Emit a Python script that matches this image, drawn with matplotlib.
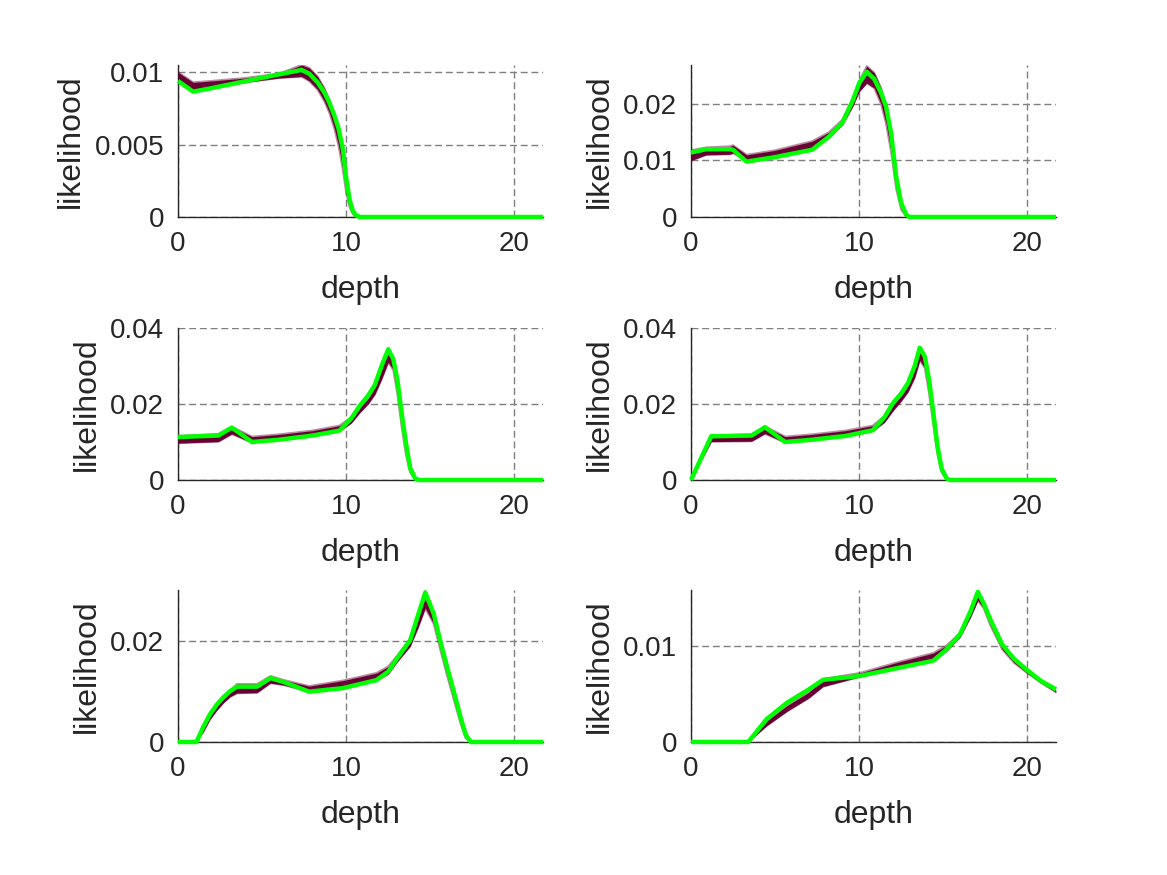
import numpy as np
import matplotlib
matplotlib.use('Agg')
import matplotlib.pyplot as plt
from matplotlib.ticker import FormatStrFormatter

plt.rcParams['font.family'] = ['Liberation Sans', 'DejaVu Sans']

# panel 1 (top left)
depth1 = [0, 0.9, 2, 4, 6, 7.35, 7.8, 8.3, 8.7, 9.0, 9.3, 9.55, 9.8, 10.0, 10.2, 10.4, 10.6, 10.8, 21.7]
green1 = [0.0094, 0.00866, 0.0089, 0.00938, 0.00985, 0.01016, 0.0099, 0.0093, 0.0086, 0.0079, 0.0070, 0.0061, 0.0047, 0.0027, 0.0012, 0.0004, 0.0001, 0, 0]
hi1 = [0.0100, 0.0093, 0.0094, 0.0096, 0.0099, 0.0105, 0.0103, 0.0097, 0.0089, 0.0081, 0.0070, 0.0058, 0.0041, 0.0023, 0.0010, 0.0003, 0.0001, 0, 0]
lo1 = [0.0095, 0.0087, 0.0089, 0.0093, 0.0096, 0.0097, 0.0094, 0.0088, 0.0080, 0.0072, 0.0061, 0.0049, 0.0033, 0.0017, 0.0007, 0.0002, 0.0, 0, 0]

# panel 2 (top right)
depth2 = [0, 0.9, 2.3, 2.5, 3.3, 5, 7.2, 8.2, 9.0, 9.6, 10.0, 10.45, 10.9, 11.3, 11.6, 11.9, 12.2, 12.5, 12.8, 13.0, 21.7]
green2 = [0.0114, 0.0120, 0.0120, 0.0119, 0.0098, 0.0106, 0.0119, 0.0142, 0.0167, 0.0205, 0.0237, 0.0257, 0.0244, 0.0220, 0.0195, 0.0148, 0.0071, 0.0024, 0.0004, 0, 0]
hi2 = [0.0118, 0.0123, 0.0125, 0.0127, 0.0110, 0.0118, 0.0134, 0.0150, 0.0172, 0.0208, 0.0240, 0.0267, 0.0255, 0.0228, 0.0196, 0.0148, 0.0072, 0.0022, 0.0003, 0, 0]
lo2 = [0.0100, 0.0110, 0.0111, 0.0113, 0.0100, 0.0107, 0.0120, 0.0140, 0.0163, 0.0195, 0.0222, 0.0237, 0.0228, 0.0200, 0.0165, 0.0115, 0.0050, 0.0013, 0.0001, 0, 0]

# panel 3 (middle left)
depth3 = [0, 2.4, 3.2, 4.4, 6, 8, 9.6, 10.3, 10.8, 11.3, 11.7, 12.1, 12.5, 12.8, 13.05, 13.3, 13.55, 13.8, 14.1, 14.3, 21.7]
green3 = [0.0113, 0.0117, 0.0138, 0.0100, 0.0106, 0.0117, 0.0130, 0.0162, 0.0195, 0.0222, 0.0250, 0.0300, 0.0344, 0.0318, 0.0262, 0.0175, 0.0098, 0.0032, 0.0004, 0, 0]
hi3 = [0.0116, 0.0121, 0.0140, 0.0114, 0.0120, 0.0130, 0.0143, 0.0165, 0.0190, 0.0215, 0.0243, 0.0292, 0.0347, 0.0318, 0.0255, 0.0168, 0.0088, 0.0030, 0.0003, 0, 0]
lo3 = [0.0097, 0.0101, 0.0121, 0.0098, 0.0106, 0.0115, 0.0128, 0.0150, 0.0177, 0.0200, 0.0225, 0.0265, 0.0310, 0.0290, 0.0225, 0.0140, 0.0068, 0.0020, 0.0001, 0, 0]

# panel 4 (middle right)
depth4 = [0, 1.2, 3.6, 4.4, 5.6, 7.2, 9.2, 10.8, 11.5, 12.0, 12.5, 12.9, 13.3, 13.6, 13.9, 14.15, 14.4, 14.65, 14.9, 15.2, 15.4, 21.7]
green4 = [0, 0.0115, 0.0117, 0.0139, 0.0100, 0.0106, 0.0116, 0.0131, 0.0165, 0.0202, 0.0228, 0.0255, 0.0300, 0.0348, 0.0325, 0.0265, 0.0180, 0.0090, 0.0030, 0.0004, 0, 0]
hi4 = [0, 0.0117, 0.0120, 0.0141, 0.0114, 0.0120, 0.0130, 0.0143, 0.0168, 0.0197, 0.0222, 0.0248, 0.0292, 0.0350, 0.0322, 0.0258, 0.0172, 0.0083, 0.0026, 0.0003, 0, 0]
lo4 = [0, 0.0101, 0.0102, 0.0122, 0.0098, 0.0106, 0.0115, 0.0128, 0.0152, 0.0182, 0.0208, 0.0232, 0.0270, 0.0315, 0.0295, 0.0230, 0.0148, 0.0068, 0.0020, 0.0001, 0, 0]

# panel 5 (bottom left)
depth5 = [0, 1.1, 1.5, 1.9, 2.3, 2.7, 3.1, 3.5, 4.7, 5.5, 6.3, 7.8, 9.8, 11.8, 12.5, 13.0, 13.8, 14.3, 14.7, 15.2, 15.6, 16.0, 16.4, 16.8, 17.1, 17.4, 21.7]
green5 = [0, 0, 0.0030, 0.0055, 0.0074, 0.0089, 0.0101, 0.0110, 0.0110, 0.0127, 0.0119, 0.0100, 0.0107, 0.0123, 0.0140, 0.0165, 0.0202, 0.0255, 0.0297, 0.0255, 0.0200, 0.0149, 0.0100, 0.0049, 0.0015, 0, 0]
hi5 = [0, 0, 0.0028, 0.0053, 0.0072, 0.0088, 0.0102, 0.0115, 0.0115, 0.0131, 0.0123, 0.0111, 0.0122, 0.0137, 0.0150, 0.0170, 0.0205, 0.0257, 0.0300, 0.0250, 0.0195, 0.0143, 0.0093, 0.0043, 0.0011, 0, 0]
lo5 = [0, 0, 0.0020, 0.0045, 0.0063, 0.0078, 0.0090, 0.0097, 0.0098, 0.0117, 0.0113, 0.0100, 0.0107, 0.0122, 0.0135, 0.0158, 0.0190, 0.0230, 0.0266, 0.0235, 0.0183, 0.0132, 0.0084, 0.0037, 0.0008, 0, 0]

# panel 6 (bottom right)
depth6 = [0, 3.4, 4.5, 5.7, 7.0, 7.85, 10.0, 12.2, 14.4, 15.2, 16.0, 16.6, 17.05, 17.4, 17.8, 18.5, 19.2, 20.0, 20.8, 21.7]
green6 = [0, 0, 0.0024, 0.0041, 0.0055, 0.0065, 0.0069, 0.0077, 0.0085, 0.0097, 0.0113, 0.0136, 0.0157, 0.0145, 0.0128, 0.0102, 0.0087, 0.0075, 0.0064, 0.0055]
hi6 = [0, 0, 0.0022, 0.0038, 0.0052, 0.0066, 0.0072, 0.0083, 0.0093, 0.0101, 0.0114, 0.0136, 0.0158, 0.0145, 0.0127, 0.0100, 0.0085, 0.0074, 0.0063, 0.0054]
lo6 = [0, 0, 0.0017, 0.0032, 0.0046, 0.0058, 0.0068, 0.0077, 0.0085, 0.0095, 0.0110, 0.0130, 0.0148, 0.0140, 0.0122, 0.0097, 0.0083, 0.0072, 0.0062, 0.0052]

depths = [depth1, depth2, depth3, depth4, depth5, depth6]
greens = [green1, green2, green3, green4, green5, green6]
his = [hi1, hi2, hi3, hi4, hi5, hi6]
los = [lo1, lo2, lo3, lo4, lo5, lo6]
ytops = [0.0105, 0.0269, 0.04, 0.04, 0.0302, 0.0159]
yticks = [[0, 0.005, 0.01], [0, 0.01, 0.02], [0, 0.02, 0.04], [0, 0.02, 0.04], [0, 0.02], [0, 0.01]]

maroon = '#690035'
txt = '#262626'

fig = plt.figure(figsize=(11.67, 8.75), dpi=100)
lefts = [178, 691]
tops = [65, 328, 590]
w = 365 / 1167

for i in range(6):
    r, c = divmod(i, 2)
    h = 152 / 875
    ax = fig.add_axes([lefts[c] / 1167, 1 - (tops[r] + 152) / 875, w, h])
    x = np.array(depths[i])
    ax.fill_between(x, los[i], his[i], color=maroon, lw=0, zorder=2)
    ax.plot(x, his[i], color=maroon, lw=1.5, alpha=0.45, zorder=2)
    ax.plot(x, los[i], color=maroon, lw=1.5, alpha=0.45, zorder=2)
    ax.plot(x, greens[i], color='#00ff00', lw=3.2, zorder=3, clip_on=False,
            solid_capstyle='butt')
    ax.set_xlim(0, 21.7)
    ax.set_ylim(0, ytops[i])
    ax.set_xticks([0, 10, 20])
    ax.set_yticks(yticks[i])
    ax.yaxis.set_major_formatter(FormatStrFormatter('%g'))
    ax.grid(True, color='#7f7f7f', lw=1.0, ls=(0, (5, 2.7)))
    ax.set_axisbelow(True)
    for s in ['top', 'right']:
        ax.spines[s].set_visible(False)
    for s in ['left', 'bottom']:
        ax.spines[s].set_color(txt)
        ax.spines[s].set_linewidth(1.0)
        ax.spines[s].set_zorder(1)
    ax.tick_params(length=0, labelsize=20, colors=txt, pad=10)
    ax.set_xlabel('depth', fontsize=23, color=txt, labelpad=13)
    ax.set_ylabel('likelihood', fontsize=23, color=txt, labelpad=6)

fig.savefig('out.png', dpi=100, facecolor='white')
